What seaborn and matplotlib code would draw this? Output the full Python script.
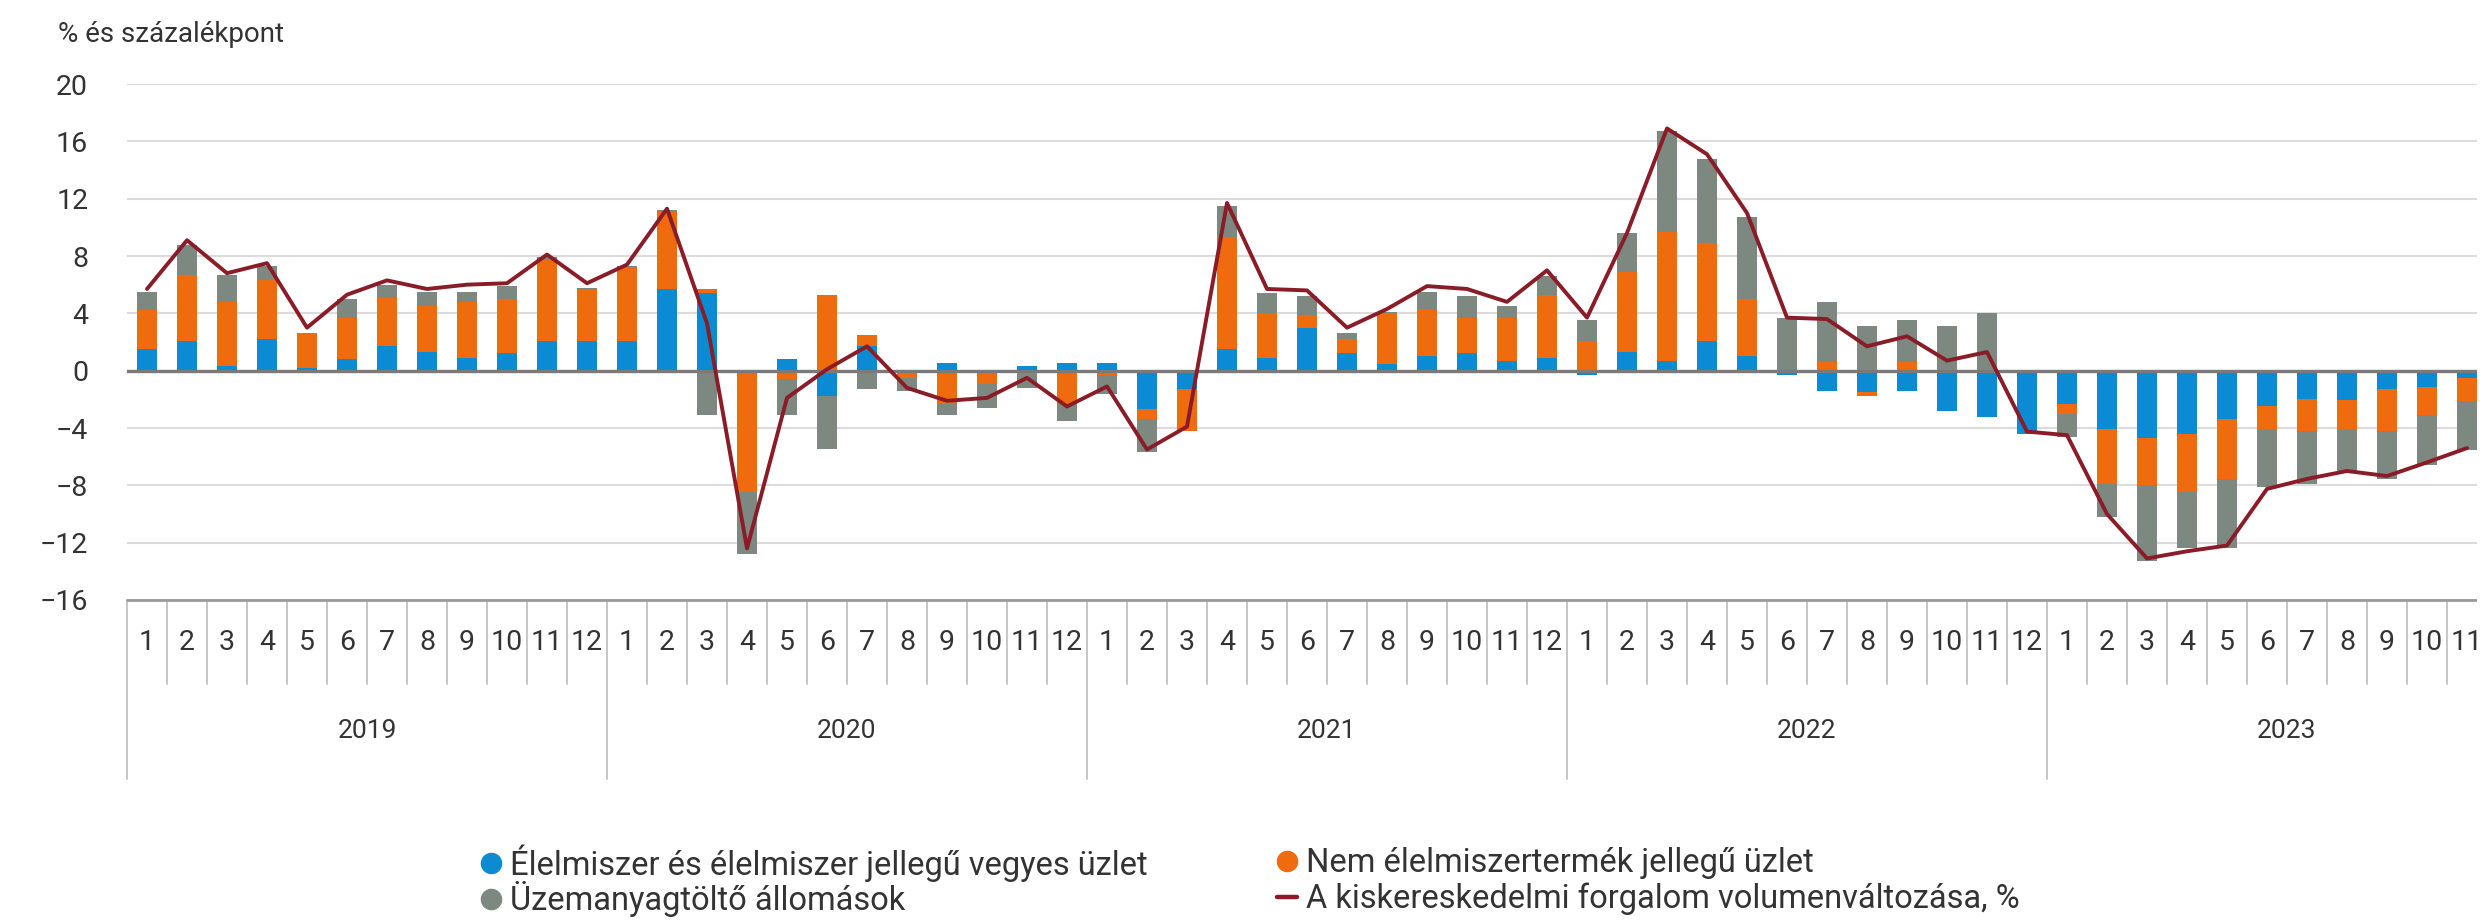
import numpy as np
import pandas as pd
import matplotlib
matplotlib.use("Agg")
import matplotlib.pyplot as plt
from matplotlib.lines import Line2D
from matplotlib.patches import Rectangle
import seaborn as sns

# ---- data: contributions to the yearly change of retail volume (percentage points) ----
years = [2019, 2020, 2021, 2022, 2023]
months_per_year = [12, 12, 12, 12, 11]

food = [1.5, 2.1, 0.35, 2.2, 0.2, 0.8, 1.7, 1.3, 0.9, 1.2, 2.1, 2.1,
        2.1, 5.7, 5.4, 0.0, 0.8, -1.8, 1.7, 0.0, 0.5, 0.0, 0.35, 0.5,
        0.5, -2.65, -1.3, 1.5, 0.9, 3.0, 1.2, 0.5, 1.0, 1.2, 0.7, 0.9,
        -0.3, 1.3, 0.7, 2.1, 1.0, -0.3, -1.4, -1.5, -1.4, -2.8, -3.25, -4.4,
        -2.3, -4.1, -4.7, -4.4, -3.35, -2.45, -2.0, -2.05, -1.3, -1.15, -0.5]

nonfood = [2.7, 4.6, 4.45, 4.1, 2.4, 2.9, 3.4, 3.2, 3.9, 3.8, 5.6, 3.6,
           5.1, 5.4, 0.3, -8.5, -0.6, 5.3, 0.8, -0.5, -2.3, -0.9, -0.2, -2.3,
           -0.3, -0.75, -2.9, 7.8, 3.1, 0.9, 1.0, 3.5, 3.3, 2.5, 3.0, 4.4,
           2.1, 5.6, 9.0, 6.8, 4.0, 0.0, 0.6, -0.3, 0.6, 0.0, 0.0, 0.0,
           -0.7, -3.8, -3.3, -4.1, -4.2, -1.65, -2.2, -2.05, -2.9, -1.95, -1.6]

fuel = [1.3, 2.1, 1.9, 1.0, 0.0, 1.3, 0.9, 1.0, 0.7, 0.9, 0.2, 0.1,
        0.1, 0.1, -3.1, -4.3, -2.5, -3.7, -1.3, -0.9, -0.8, -1.7, -1.0, -1.2,
        -1.3, -2.3, 0.0, 2.2, 1.4, 1.3, 0.4, 0.1, 1.2, 1.5, 0.8, 1.3,
        1.4, 2.7, 7.0, 5.9, 5.7, 3.7, 4.2, 3.1, 2.9, 3.1, 4.0, 0.0,
        -1.6, -2.3, -5.3, -3.9, -4.85, -4.0, -3.7, -2.9, -3.35, -3.5, -3.4]

total = [5.7, 9.1, 6.8, 7.5, 3.0, 5.3, 6.3, 5.7, 6.0, 6.1, 8.1, 6.1,
         7.4, 11.3, 3.3, -12.4, -1.9, 0.1, 1.7, -1.2, -2.1, -1.9, -0.5, -2.5,
         -1.1, -5.5, -3.9, 11.7, 5.7, 5.6, 3.0, 4.3, 5.9, 5.7, 4.8, 7.0,
         3.7, 9.6, 16.9, 15.1, 11.0, 3.7, 3.6, 1.7, 2.4, 0.7, 1.3, -4.25,
         -4.5, -10.0, -13.1, -12.6, -12.2, -8.25, -7.55, -7.0, -7.35, -6.4, -5.4]

series_names = [
    "Élelmiszer és élelmiszer jellegű vegyes üzlet",
    "Nem élelmiszertermék jellegű üzlet",
    "Üzemanyagtöltő állomások",
]
line_name = "A kiskereskedelmi forgalom volumenváltozása, %"
y_title = "% és százalékpont"
y_ticks = list(range(-16, 21, 4))

colors = ["#0a8bd2", "#f06a10", "#7d8980"]
line_color = "#8a1c28"
text_color = "#333333"

month_labels = [m for n in months_per_year for m in range(1, n + 1)]
df = pd.DataFrame({
    "pos": np.arange(len(total)) + 0.5,
    "month": month_labels,
    "food": food, "nonfood": nonfood, "fuel": fuel, "total": total,
})

# ---- figure ----
W, H = 2483, 921
sns.set_theme(style="white")
plt.rcParams["font.family"] = ["Roboto", "DejaVu Sans"]

fig = plt.figure(figsize=(W / 100, H / 100), dpi=100)
ax_left, ax_right, ax_top, ax_bottom = 127, 127 + 60 * 40, 84, 600
ax = fig.add_axes([ax_left / W, 1 - ax_bottom / H, (ax_right - ax_left) / W,
                   (ax_bottom - ax_top) / H])

# stacked bars, positives upward and negatives downward
pos_base = np.zeros(len(df))
neg_base = np.zeros(len(df))
for col, c in zip(["food", "nonfood", "fuel"], colors):
    v = df[col].to_numpy(dtype=float)
    bottom = np.where(v >= 0, pos_base, neg_base)
    ax.bar(df["pos"], v, width=0.52, bottom=bottom, color=c, linewidth=0, zorder=2)
    pos_base += np.clip(v, 0, None)
    neg_base += np.clip(v, None, 0)

ax.axhline(0, color="#7a7a7a", lw=2.4, zorder=3)

sns.lineplot(data=df, x="pos", y="total", ax=ax, color=line_color, lw=2.8,
             zorder=4, legend=False)

ax.set_xlim(0, 60)
ax.set_ylim(-16, 20)
ax.set_yticks(y_ticks)
ax.yaxis.grid(True, color="#dcdcdc", lw=1.5, zorder=0)
ax.set_axisbelow(True)
for s in ax.spines.values():
    s.set_visible(False)
ax.tick_params(axis="y", length=0, pad=28, labelsize=20.5, labelcolor=text_color)
ax.set_xticks([])
ax.set_xlabel("")
ax.set_ylabel("")

# category table under the plot: months and years
trans = ax.get_xaxis_transform()
plot_h = ax_bottom - ax_top
month_row = -(684 - ax_bottom) / plot_h
year_row = -(779 - ax_bottom) / plot_h
ax.plot([0, 60], [0, 0], transform=trans, color="#9a9a9a", lw=2.0, clip_on=False, zorder=5)
for i in range(61):
    y_end = year_row if i % 12 == 0 else month_row
    ax.plot([i, i], [0, y_end], transform=trans, color="#c2c2c2", lw=1.3,
            clip_on=False, zorder=1)
for p, m in zip(df["pos"], df["month"]):
    ax.text(p, month_row / 2, str(m), transform=trans, ha="center", va="center",
            fontsize=20.5, color=text_color)
for k, yr in enumerate(years):
    ax.text(12 * k + 6, (month_row + year_row) / 2, str(yr), transform=trans,
            ha="center", va="center", fontsize=19, color=text_color)

fig.text(58 / W, 1 - 35 / H, y_title, ha="left", va="center", fontsize=20,
         color=text_color)

# legend entries, one per slot so both columns share the same rows
def circle(c):
    return Line2D([], [], marker="o", linestyle="", markersize=14.5,
                  markerfacecolor=c, markeredgecolor=c)

leg_kw = dict(frameon=False, loc="center left", fontsize=23.5, handlelength=0.62,
              handletextpad=0.28, borderpad=0, borderaxespad=0,
              labelcolor=text_color)
entries = [
    (circle(colors[0]), series_names[0], 481, 863),
    (circle(colors[2]), series_names[2], 481, 899),
    (circle(colors[1]), series_names[1], 1277, 863),
    (Line2D([], [], color=line_color, lw=3.2), line_name, 1277, 899),
]
for handle, label, px, py in entries:
    fig.legend([handle], [label], bbox_to_anchor=(px / W, 1 - py / H), **leg_kw)

# the chart is cut off at the right border
fig.patches.append(Rectangle((2477 / W, 0), 1, 1, transform=fig.transFigure,
                             facecolor="white", edgecolor="none", zorder=100))

fig.savefig("out.png", dpi=100, facecolor="white")
